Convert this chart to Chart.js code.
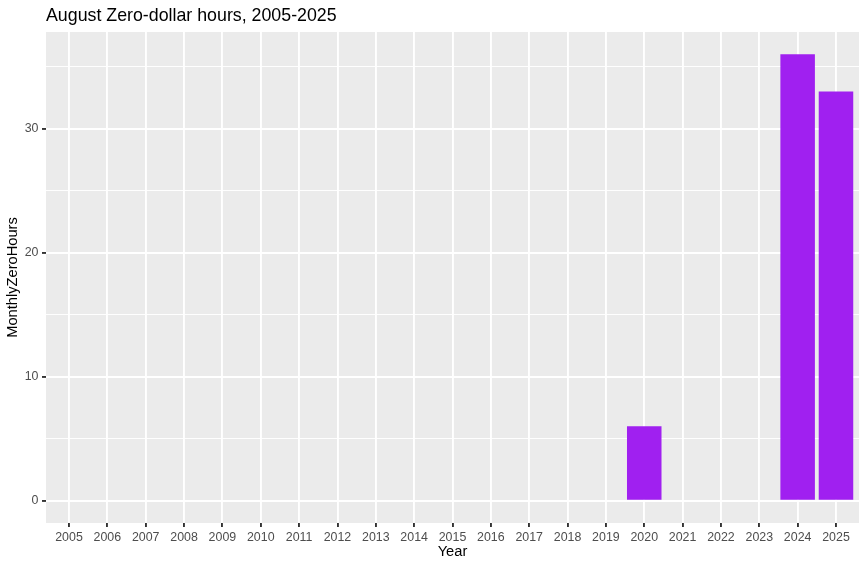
<!DOCTYPE html>
<html>
<head>
<meta charset="utf-8">
<script src="https://cdn.jsdelivr.net/npm/chart.js@4"></script>
<style>
    html, body { margin: 0; padding: 0; background: #fff; }
    #wrap { width: 867px; height: 568px; }
</style>
</head>
<body>
<div id="wrap"><canvas id="zeroChart" width="867" height="568"></canvas></div>
<script>
const years = [2005, 2006, 2007, 2008, 2009, 2010, 2011, 2012, 2013, 2014, 2015,
    2016, 2017, 2018, 2019, 2020, 2021, 2022, 2023, 2024, 2025];
const zeroHours = [0, 0, 0, 0, 0, 0, 0, 0, 0, 0, 0, 0, 0, 0, 0, 6, 0, 0, 0, 36, 33];
const yTicks = [0, 5, 10, 15, 20, 25, 30, 35];

const titleText = "August Zero-dollar hours, 2005-2025";
const fontFamily = "'Liberation Sans', Arial, sans-serif";

// grey panel behind the plot, like ggplot
const panelBg = {
    id: "panelBg",
    beforeDraw(chart) {
        const { ctx, chartArea: a } = chart;
        ctx.save();
        ctx.fillStyle = "#EBEBEB";
        ctx.fillRect(a.left, a.top, a.right - a.left, a.bottom - a.top);
        ctx.restore();
    }
};

// title sits over the panel's left edge
const panelTitle = {
    id: "panelTitle",
    afterDraw(chart) {
        const { ctx, chartArea: a } = chart;
        ctx.save();
        ctx.fillStyle = "#000";
        ctx.font = "17.8px " + fontFamily;
        ctx.textBaseline = "alphabetic";
        ctx.textAlign = "left";
        ctx.fillText(titleText, a.left, 21);
        ctx.restore();
    }
};

const isMajor = v => v % 10 === 0;

new Chart(document.getElementById("zeroChart"), {
    type: "bar",
    data: {
        datasets: [{
            label: "MonthlyZeroHours",
            data: years.map((y, i) => ({ x: y, y: zeroHours[i] })),
            backgroundColor: "#A020F0",
            borderWidth: 0,
            barPercentage: 0.9,
            categoryPercentage: 1
        }]
    },
    options: {
        responsive: false,
        animation: false,
        layout: { padding: { left: 0, right: 8, top: 32, bottom: 0 } },
        plugins: {
            legend: { display: false },
            tooltip: { enabled: false }
        },
        scales: {
            x: {
                type: "linear",
                min: 2004.4,
                max: 2025.6,
                offset: false,
                border: { display: false },
                grid: {
                    offset: false,
                    color: "#FFFFFF",
                    lineWidth: 1.9,
                    drawTicks: true,
                    tickLength: 4,
                    tickColor: "#333333",
                    tickWidth: 1.9
                },
                afterBuildTicks: scale => {
                    scale.ticks = years.map(v => ({ value: v }));
                },
                afterFit: scale => { scale.height = 45; },
                ticks: {
                    autoSkip: false,
                    maxRotation: 0,
                    padding: 3,
                    color: "#4D4D4D",
                    font: { family: fontFamily, size: 12.4 },
                    callback: v => String(v)
                },
                title: {
                    display: true,
                    text: "Year",
                    color: "#000",
                    font: { family: fontFamily, size: 14.67 },
                    padding: { top: 0, bottom: 7.5 }
                }
            },
            y: {
                type: "linear",
                min: -1.8,
                max: 37.8,
                border: { display: false },
                grid: {
                    color: "#FFFFFF",
                    lineWidth: ctx => isMajor(ctx.tick.value) ? 1.9 : 0.95,
                    drawTicks: true,
                    tickLength: 4,
                    tickColor: ctx => isMajor(ctx.tick.value) ? "#333333" : "rgba(0,0,0,0)",
                    tickWidth: 1.9
                },
                afterBuildTicks: scale => {
                    scale.ticks = yTicks.map(v => ({ value: v }));
                },
                afterFit: scale => { scale.width = 46; },
                ticks: {
                    padding: 3.5,
                    color: "#4D4D4D",
                    font: { family: fontFamily, size: 12.4 },
                    callback: v => isMajor(v) ? String(v) : ""
                },
                title: {
                    display: true,
                    text: "MonthlyZeroHours",
                    color: "#000",
                    font: { family: fontFamily, size: 14.67 },
                    padding: { top: 4, bottom: 0 }
                }
            }
        }
    },
    plugins: [panelBg, panelTitle]
});
</script>
</body>
</html>
